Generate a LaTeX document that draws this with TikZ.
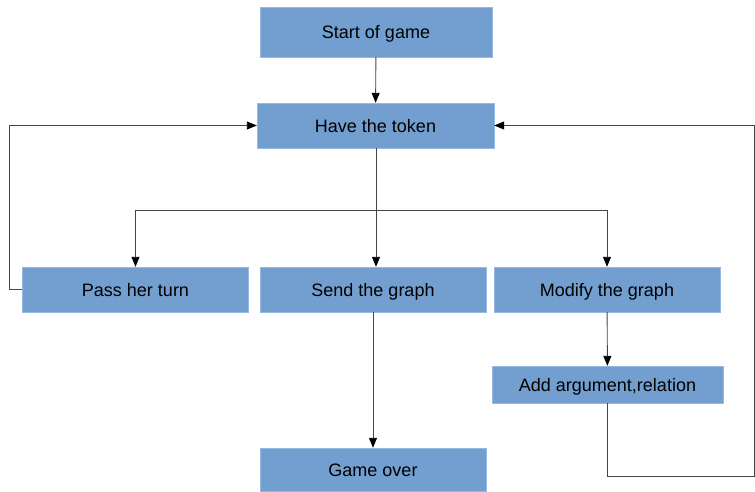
\documentclass[tikz,border=0pt]{standalone}
\usepackage{fontspec}
\setmainfont{Liberation Sans}
\usepackage{tikz}
\usetikzlibrary{arrows.meta}

\definecolor{boxFill}{RGB}{114,159,207}
\definecolor{boxLine}{RGB}{150,185,225}
\definecolor{flowLine}{RGB}{70,70,70}

\tikzset{
  flowBox/.style={draw=boxLine, fill=boxFill, inner sep=0pt, minimum height=45, text height=13, text depth=0, font=\fontsize{18}{21}\selectfont},
  flowArrow/.style={->,>={Triangle[length=10,width=8,color=black]}, color=flowLine, line width=0.9pt}
}

\begin{document}
\begin{tikzpicture}[x=1pt,y=-1pt]
\useasboundingbox (0,0) rectangle (755,492);
\node[flowBox,minimum width=232,minimum height=50] (start) at (376,32) {Start of game};
\node[flowBox,minimum width=237] (token) at (375.5,125.5) {Have the token};
\node[flowBox,minimum width=226] (pass) at (135.5,289.5) {Pass her turn};
\node[flowBox,minimum width=226] (send) at (373,289.5) {Send the graph};
\node[flowBox,minimum width=226] (modify) at (607,289.5) {Modify the graph};
\node[flowBox,minimum width=231,minimum height=37] (add) at (607.5,384.5) {Add argument,relation};
\node[flowBox,minimum width=226,minimum height=43] (over) at (373,469.5) {Game over};
\coordinate (split) at (376,210);
\coordinate (leftTurn) at (9,289.5);
\coordinate (rightTurn) at (754,476);
\draw[flowArrow] (start) -- (token);
\draw[flowArrow,-] (token.south -| split) -- (split);
\draw[flowArrow] (split) -- (split |- send.north);
\draw[flowArrow] (split) -| (pass.north);
\draw[flowArrow] (split) -| (modify.north);
\draw[flowArrow] (pass.west) -- (leftTurn) |- (token.west);
\draw[flowArrow] (send) -- (over);
\draw[flowArrow] (modify) -- (add);
\draw[flowArrow] (add.south) |- (rightTurn) |- (token.east);
\end{tikzpicture}
\end{document}
